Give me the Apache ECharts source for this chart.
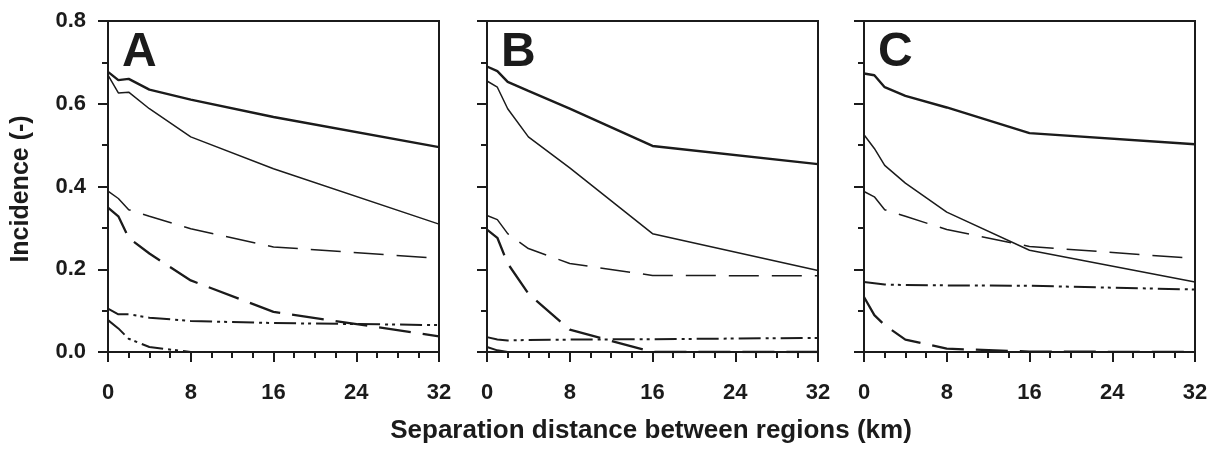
<!DOCTYPE html>
<html>
<head>
<meta charset="utf-8">
<script src="https://cdn.jsdelivr.net/npm/echarts@6/dist/echarts.min.js"></script>
<style>
  html, body { margin: 0; padding: 0; background: #fff; }
  #chart { width: 1211px; height: 451px; }
</style>
</head>
<body>
<div id="chart"></div>
<script>
// separation distances (km)
var distances = [0, 1, 2, 4, 8, 16, 32];
var xTicks = [0, 8, 16, 24, 32];
var yTicks = [0.0, 0.2, 0.4, 0.6, 0.8];
var panelNames = ['A', 'B', 'C'];

// panel A
var aThickSolid = [0.677, 0.657, 0.660, 0.634, 0.610, 0.568, 0.495];
var aThinSolid  = [0.669, 0.626, 0.628, 0.588, 0.520, 0.443, 0.309];
var aThinDash   = [0.389, 0.371, 0.344, 0.328, 0.298, 0.254, 0.226];
var aThickDash  = [0.349, 0.328, 0.276, 0.238, 0.173, 0.097, 0.038];
var aDashDot    = [0.105, 0.091, 0.091, 0.083, 0.075, 0.070, 0.065];
var aDashDotLow = [0.077, 0.057, 0.032, 0.012, 0.000, 0.000, 0.000];

// panel B
var bThickSolid = [0.690, 0.679, 0.653, 0.631, 0.588, 0.498, 0.454];
var bThinSolid  = [0.655, 0.640, 0.588, 0.520, 0.445, 0.286, 0.197];
var bThinDash   = [0.330, 0.320, 0.286, 0.250, 0.214, 0.185, 0.184];
var bThickDash  = [0.296, 0.276, 0.214, 0.141, 0.054, 0.000, 0.000];
var bDashDot    = [0.036, 0.030, 0.028, 0.029, 0.030, 0.031, 0.034];
var bDashDotLow = [0.012, 0.004, 0.000, 0.000, 0.000, 0.000, 0.000];

// panel C
var cThickSolid = [0.673, 0.669, 0.640, 0.619, 0.591, 0.529, 0.502];
var cThinSolid  = [0.525, 0.492, 0.451, 0.408, 0.338, 0.246, 0.169];
var cThinDash   = [0.388, 0.375, 0.344, 0.328, 0.296, 0.255, 0.226];
var cThickDash  = [0.133, 0.089, 0.065, 0.030, 0.008, 0.001, 0.000];
var cDashDot    = [0.169, 0.166, 0.163, 0.162, 0.161, 0.160, 0.151];
var cDashDotLow = [0.000, 0.000, 0.000, 0.000, 0.000, 0.000, 0.000];

var panels = [
    [aThickSolid, aThinSolid, aThinDash, aThickDash, aDashDot, aDashDotLow],
    [bThickSolid, bThinSolid, bThinDash, bThickDash, bDashDot, bDashDotLow],
    [cThickSolid, cThinSolid, cThinDash, cThickDash, cDashDot, cDashDotLow]
];

var ink = '#1b1b1b';
var font = "'Liberation Sans', Arial, sans-serif";

// line looks, same order as the arrays in each panel
var styles = [
    { width: 2.4, type: 'solid' },
    { width: 1.5, type: 'solid' },
    { width: 1.5, type: [30, 13] },
    { width: 2.3, type: [32, 12] },
    { width: 2.0, type: [22, 5, 3, 4, 3, 5] },
    { width: 2.0, type: [22, 5, 3, 4, 3, 5] }
];

var gridLefts = [108, 487, 864];
var plotW = 331;

var chart = echarts.init(document.getElementById('chart'));

var grids = [], xAxes = [], yAxes = [], series = [], titles = [];
for (var p = 0; p < 3; p++) {
    grids.push({
        left: gridLefts[p], top: 21, width: plotW, height: 331,
        outerBoundsMode: 'none', containLabel: false,
        show: true, borderColor: ink, borderWidth: 2,
        backgroundColor: 'transparent'
    });
    xAxes.push({
        gridIndex: p, type: 'value', min: xTicks[0], max: xTicks[xTicks.length - 1], interval: 8,
        axisLine: { show: true, onZero: false, lineStyle: { color: ink, width: 2 } },
        axisTick: { show: true, length: 10, lineStyle: { color: ink, width: 2 } },
        minorTick: { show: true, splitNumber: 4, length: 6, lineStyle: { color: ink, width: 2 } },
        splitLine: { show: false },
        axisLabel: { show: true, margin: 30, color: ink, fontSize: 22, fontWeight: 'bold', fontFamily: font }
    });
    yAxes.push({
        gridIndex: p, type: 'value', min: yTicks[0], max: yTicks[yTicks.length - 1], interval: 0.2,
        axisLine: { show: true, lineStyle: { color: ink, width: 2 } },
        axisTick: { show: true, length: 10, lineStyle: { color: ink, width: 2 } },
        minorTick: { show: true, splitNumber: 2, length: 6, lineStyle: { color: ink, width: 2 } },
        splitLine: { show: false },
        axisLabel: {
            show: p === 0, margin: 22, color: ink, fontSize: 22, fontWeight: 'bold', fontFamily: font,
            formatter: function (v) { return v.toFixed(1); }
        }
    });
    titles.push({
        text: panelNames[p], left: gridLefts[p] + 9, top: 24,
        textStyle: { color: ink, fontSize: 48, fontWeight: 'bold', fontFamily: font }
    });
    for (var s = 0; s < panels[p].length; s++) {
        var vals = panels[p][s];
        series.push({
            type: 'line', xAxisIndex: p, yAxisIndex: p,
            data: distances.map(function (d, i) { return [d, vals[i]]; }),
            symbol: 'none', silent: true, animation: false,
            lineStyle: { color: ink, width: styles[s].width, type: styles[s].type }
        });
    }
}

chart.setOption({
    backgroundColor: '#fff',
    animation: false,
    title: titles,
    grid: grids,
    xAxis: xAxes,
    yAxis: yAxes,
    series: series,
    graphic: [
        {
            type: 'text', x: 651, y: 431,
            style: { text: 'Separation distance between regions (km)', fill: ink, font: 'bold 26px ' + font, align: 'center', verticalAlign: 'middle' }
        },
        {
            type: 'text', x: 9, y: 189, rotation: Math.PI / 2,
            style: { text: 'Incidence (-)', fill: ink, font: 'bold 25px ' + font, align: 'center', verticalAlign: 'top' }
        }
    ]
});
</script>
</body>
</html>
